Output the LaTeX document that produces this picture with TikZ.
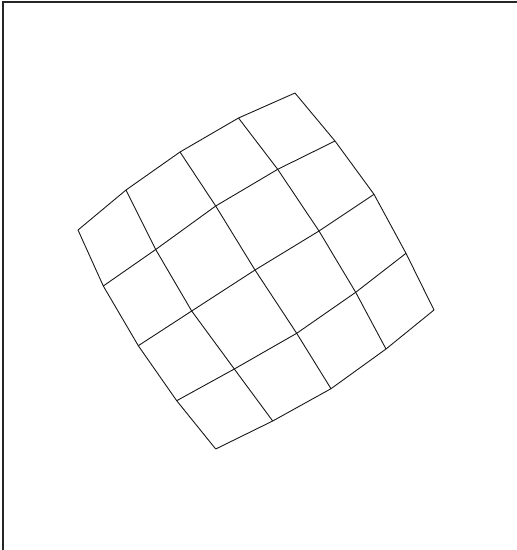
\documentclass[tikz,border=0pt]{standalone}
\begin{document}
\begin{tikzpicture}[x=1pt,y=-1pt,gridline/.style={draw=black!90,line width=0.9pt,line join=miter},frameline/.style={draw=black!85,line width=1.1pt}]
\useasboundingbox (0,0) rectangle (517,550);
\coordinate (f0) at (3,550);
\coordinate (f1) at (3,2);
\coordinate (f2) at (517,2);
\draw[frameline] (f0) -- (f1) -- (f2);
% row 0
\coordinate (p00) at (78,230);
\coordinate (p01) at (126,190);
\coordinate (p02) at (180,152);
\coordinate (p03) at (238.5,118);
\coordinate (p04) at (295,93);
% row 1
\coordinate (p10) at (103.3,286);
\coordinate (p11) at (155.7,249.5);
\coordinate (p12) at (215.7,206);
\coordinate (p13) at (277.7,169.3);
\coordinate (p14) at (335,141);
% row 2
\coordinate (p20) at (138.3,345.7);
\coordinate (p21) at (191.7,311);
\coordinate (p22) at (255,270);
\coordinate (p23) at (319,231);
\coordinate (p24) at (374,194.3);
% row 3
\coordinate (p30) at (176.7,400.7);
\coordinate (p31) at (234.3,369);
\coordinate (p32) at (296.7,333.3);
\coordinate (p33) at (355.7,292.3);
\coordinate (p34) at (406,253.3);
% row 4
\coordinate (p40) at (215.7,449);
\coordinate (p41) at (272.7,421);
\coordinate (p42) at (331,388.7);
\coordinate (p43) at (386,349);
\coordinate (p44) at (434,310);
\foreach \r in {0,...,4} {
  \draw[gridline] (p\r0) -- (p\r1) -- (p\r2) -- (p\r3) -- (p\r4);
  \draw[gridline] (p0\r) -- (p1\r) -- (p2\r) -- (p3\r) -- (p4\r);
}
\end{tikzpicture}
\end{document}
